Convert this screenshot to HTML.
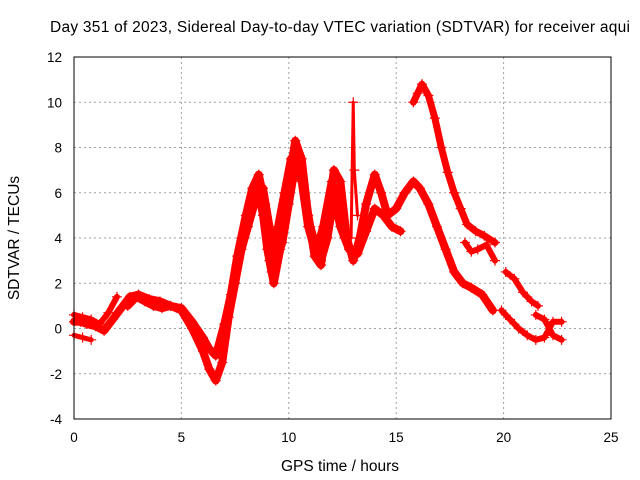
<!DOCTYPE html>
<html><head><meta charset="utf-8"><style>
body{margin:0;background:#fff}
svg{display:block;font-family:"Liberation Sans",sans-serif}
</style></head><body>
<svg id="chart" width="640" height="480">
<text x="340" y="32" font-size="15.5" text-anchor="middle" textLength="580">Day 351 of 2023, Sidereal Day-to-day VTEC variation (SDTVAR) for receiver aqui</text>
<text x="340" y="471" font-size="15.5" text-anchor="middle">GPS time / hours</text>
<text transform="translate(19,238) rotate(-90)" font-size="15.5" text-anchor="middle">SDTVAR / TECUs</text>
<g id="grid"></g><g id="series"></g>
<rect x="74" y="57" width="537" height="362" fill="none" stroke="#000"/>
</svg>
<script>
const xTicks=[0,5,10,15,20,25];
const yTicks=[-4,-2,0,2,4,6,8,10,12];
const s1h=[0,0.3,0.6,1,1.4,1.8,2.2,2.6,3,3.5,4,4.5,5,5.5,6,6.3,6.6,7,7.3,7.6,8,8.3,8.6,8.9,9.1,9.3,9.6,10,10.3,10.6,10.9,11.2,11.5,11.8,12.1,12.4,12.7,13,13.3,13.6,14,14.3,14.6,15,15.4,15.8,16.1,16.5,16.9,17.3,17.7,18.1,18.5,19,19.5];
const s1v=[0.3,0.3,0.2,0.1,-0.1,0.4,0.9,1.4,1.5,1.3,1.2,1.0,0.9,0.3,-0.4,-0.9,-1.2,0.2,1.5,3.2,5,6.2,6.8,5.5,3,2,3.5,6.5,8.3,7.5,5,3.2,2.8,5,7,6.5,4,3,4,5.5,6.8,6,5,5.3,6,6.5,6.2,5.5,4.5,3.5,2.5,2,1.8,1.5,0.8];
const s2h=[0,0.4,0.8,1.2,1.6,2];
const s2v=[0.6,0.5,0.4,0.2,0.7,1.4];
const s3h=[2.5,2.9,3.3,3.7,4.1,4.5,5,5.5,6,6.3,6.6,6.9,7.2,7.5,7.8,8.1,8.4,8.8,9.1,9.4,9.7,10,10.3,10.6,10.9,11.2,11.5,11.8,12.1,12.4,12.8,13.2,13.6,14,14.4,14.8,15.2];
const s3v=[1.0,1.4,1.2,1.0,0.9,1.0,0.8,0,-1.0,-1.8,-2.3,-1.5,0.5,2,3.5,4.5,5.5,6.2,4.5,3,3.8,5.5,7.2,6.5,4.5,3.5,3.0,4.0,5.8,4.5,3.5,3.3,4.3,5.3,5.0,4.5,4.3];
const s10h=[7.8,8.2,8.5,8.8,9.0,9.2,9.5,9.8,10.1,10.4,10.7,11,11.3,11.6,12,12.3,12.6];
const s10v=[4,5.5,6.5,5,3.5,2.5,4.5,6,7.5,7.8,6.2,4.5,3.5,4.5,6.5,5.5,4];
const spikeH=[12.9,13,13.05,13.2];
const spikeV=[4,10,7,5];
const s4h=[15.8,16,16.2,16.5,16.8,17.1,17.4,17.7,18,18.3,18.7,19.1,19.6];
const s4v=[10,10.4,10.8,10.3,9.3,8,6.9,6,5.3,4.6,4.3,4.1,3.8];
const s5h=[18.2,18.5,18.8,19.2,19.6];
const s5v=[3.8,3.4,3.5,3.7,3.0];
const s6h=[20.1,20.5,20.9,21.3,21.6];
const s6v=[2.5,2.2,1.6,1.2,1.0];
const s7h=[19.9,20.3,20.7,21.1,21.5,21.9,22.3,22.7];
const s7v=[0.8,0.4,0,-0.3,-0.5,-0.4,0.3,0.3];
const s8h=[21.5,21.9,22.3,22.7];
const s8v=[0.6,0.4,-0.3,-0.5];
const s9h=[0,0.4,0.8];
const s9v=[-0.3,-0.4,-0.5];
const X=h=>74+h*(537/25);
const Y=v=>328.5-v*22.625;
const NS="http://www.w3.org/2000/svg";
const grid=document.getElementById('grid'),ser=document.getElementById('series');
function mk(t,a,p){const e=document.createElementNS(NS,t);for(const k in a)e.setAttribute(k,a[k]);p.appendChild(e);return e;}
xTicks.forEach(t=>{const x=X(t);
 if(t>0&&t<25){const l=mk('line',{x1:x,x2:x,y1:57,y2:419,stroke:'#a0a0a0','stroke-dasharray':'2,3'},grid);
 
 }
 const tx=mk('text',{x:x,y:442,'font-size':13.5,'text-anchor':'middle'},grid);tx.textContent=t;
 
 
});
yTicks.forEach(t=>{const y=Y(t);
 if(t>-4&&t<12){const l=mk('line',{x1:74,x2:611,y1:y,y2:y,stroke:'#a0a0a0','stroke-dasharray':'2,3'},grid);
 
 }
 const tx=mk('text',{x:62,y:y+5,'font-size':13.5,'text-anchor':'end'},grid);tx.textContent=t;
 
 
});
const all=[[s1h,s1v,8],[s2h,s2v,6],[s3h,s3v,8],[s10h,s10v,8],[spikeH,spikeV,3],[s4h,s4v,7],[s5h,s5v,6],[s6h,s6v,6],[s7h,s7v,6],[s8h,s8v,6],[s9h,s9v,5]];
all.forEach(([hs,vs,w],i)=>{
 const pts=hs.map((h,j)=>X(h)+','+Y(vs[j])).join(' ');
 const pl=mk('polyline',{points:pts,fill:'none',stroke:'#ff0000','stroke-width':w,'stroke-linejoin':'round','stroke-linecap':'round'},ser);
 
 
 hs.forEach((h,j)=>{const x=X(h),y=Y(vs[j]);
  const p=mk('path',{d:`M${x-5},${y}h10M${x},${y-5}v10`,stroke:'#ff0000','stroke-width':1.2},ser);
  
  
 });
});
</script>
</body></html>
